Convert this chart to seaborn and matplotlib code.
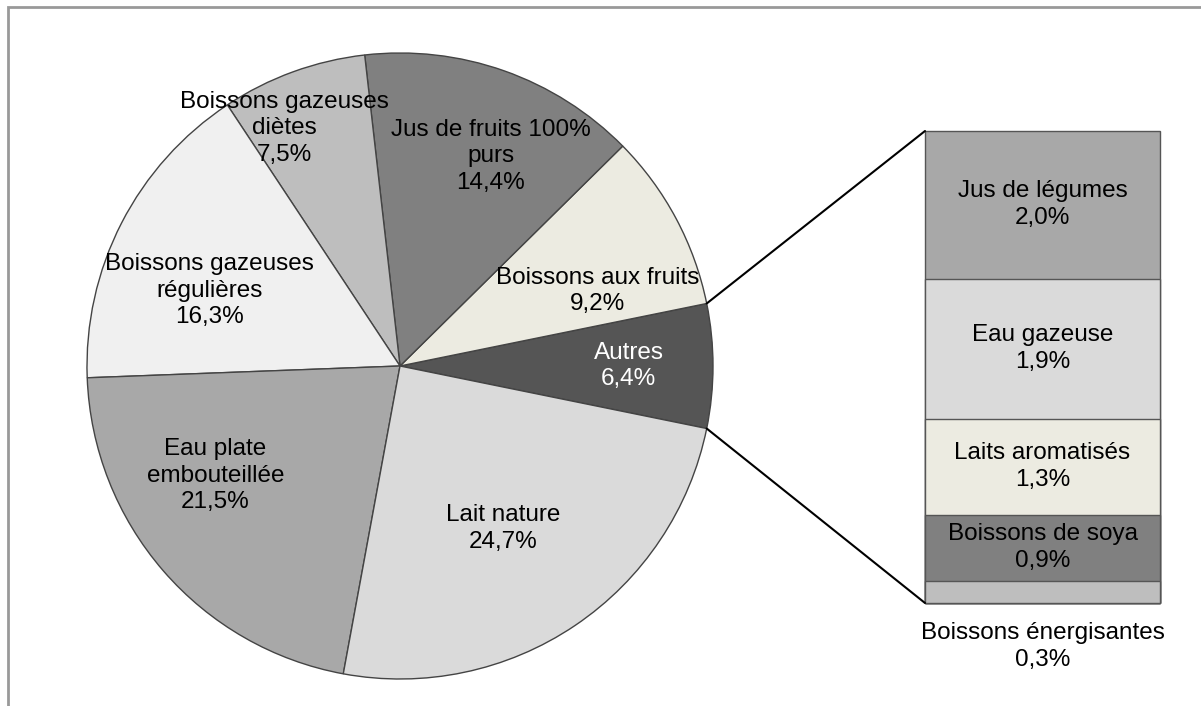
import numpy as np
import matplotlib
matplotlib.use('Agg')
import matplotlib.pyplot as plt
import seaborn as sns
from matplotlib.patches import ConnectionPatch, Rectangle

sns.set_theme(style='white')
plt.rcParams['font.family'] = ['Liberation Sans', 'DejaVu Sans']

# pie: counter-clockwise, starting with "Autres" centred on the right
pie_labels = ['Autres', 'Boissons aux fruits', 'Jus de fruits 100%\npurs',
              'Boissons gazeuses\ndiètes', 'Boissons gazeuses\nrégulières',
              'Eau plate\nembouteillée', 'Lait nature']
pie_values = [6.4, 9.2, 14.4, 7.5, 16.3, 21.5, 24.7]
pie_colors = ['#555555', '#ECEBE1', '#808080', '#BEBEBE', '#F0F0F0', '#A8A8A8', '#DADADA']
# label offsets from pie centre, in radius units
pie_label_pos = [(0.73, 0.0), (0.63, 0.24), (0.29, 0.67), (-0.37, 0.76),
                 (-0.61, 0.24), (-0.59, -0.35), (0.33, -0.52)]
pie_text_colors = ['white', 'black', 'black', 'black', 'black', 'black', 'black']

# breakdown of "Autres", bottom to top
bar_labels = ['Boissons énergisantes', 'Boissons de soya', 'Laits aromatisés',
              'Eau gazeuse', 'Jus de légumes']
bar_values = [0.3, 0.9, 1.3, 1.9, 2.0]
bar_colors = ['#BEBEBE', '#808080', '#ECEBE1', '#DADADA', '#A8A8A8']

FS = 17.5
LS = 1.27


def fmt(v):
    return f'{v:.1f}'.replace('.', ',') + '%'


W, H = 1201, 706
fig = plt.figure(figsize=(W / 100, H / 100), dpi=100)
ax = fig.add_axes([0, 0, 1, 1])

cx, cy, r = 400, 340, 313
start = -pie_values[0] / 100 * 360 / 2
ax.pie(pie_values, colors=pie_colors, startangle=start, counterclock=True,
       center=(cx, cy), radius=r, frame=True,
       wedgeprops=dict(edgecolor='#444444', linewidth=1))
ax.set_xlim(0, W)
ax.set_ylim(0, H)
ax.set_aspect('auto')
ax.axis('off')

for lab, v, (dx, dy), tc in zip(pie_labels, pie_values, pie_label_pos, pie_text_colors):
    ax.text(cx + dx * r, cy + dy * r, lab + '\n' + fmt(v), ha='center', va='center',
            fontsize=FS, color=tc, linespacing=LS)

# stacked bar for "Autres"
bax = fig.add_axes([925 / W, 103 / H, 235 / W, 472 / H])
cum = np.cumsum(bar_values)
for i in range(len(bar_values) - 1, -1, -1):
    sns.barplot(x=['Autres'], y=[cum[i]], color=bar_colors[i], width=1,
                edgecolor='#555555', linewidth=1, saturation=1, ax=bax)
for p in bax.patches:
    p.set_clip_on(False)
bax.set_xlim(-0.5, 0.5)
bax.set_ylim(0, cum[-1])
bax.axis('off')

bottoms = cum - np.array(bar_values)
for i, (lab, v) in enumerate(zip(bar_labels, bar_values)):
    if v < 0.5:
        bax.text(0.5, -0.092, lab + '\n' + fmt(v), transform=bax.transAxes,
                 ha='center', va='center', fontsize=FS, color='black', linespacing=LS)
    else:
        bax.text(0, bottoms[i] + v / 2, lab + '\n' + fmt(v), ha='center', va='center',
                 fontsize=FS, color='black', linespacing=LS)

# connectors from the "Autres" wedge to the bar
a = np.deg2rad(pie_values[0] / 100 * 360 / 2)
for sgn, yb in [(1, 1), (-1, 0)]:
    p = (cx + r * np.cos(a), cy + sgn * r * np.sin(a))
    con = ConnectionPatch(xyA=p, coordsA=ax.transData, xyB=(0, yb),
                          coordsB=bax.transAxes, color='black', linewidth=1.5)
    fig.add_artist(con)

# partial frame (top and left edges)
fig.add_artist(Rectangle((8 / W, -0.1), 1.2, (H - 7) / H + 0.1, transform=fig.transFigure,
                         fill=False, edgecolor='#999999', linewidth=2))

fig.savefig('out.png', dpi=100)
